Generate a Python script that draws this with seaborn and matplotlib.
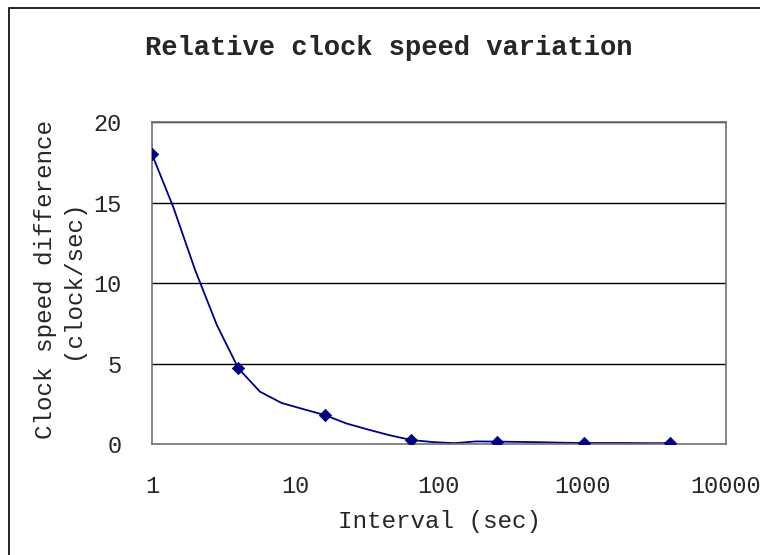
import numpy as np
import pandas as pd
import matplotlib
matplotlib.use("Agg")
import matplotlib.pyplot as plt
import seaborn as sns
from matplotlib.patches import Rectangle

# curve as drawn (read at the visible bends of the line)
line_x = [1, 1.41, 2, 2.83, 4, 5.66, 8, 11.3, 16, 22.6, 32, 45, 64,
          90.5, 128, 181, 256, 362, 512, 724, 1024, 1448, 2048, 2896, 4096]
line_y = [18.0, 14.7, 10.8, 7.4, 4.7, 3.25, 2.55, 2.17, 1.8, 1.28, 0.9, 0.55, 0.25,
          0.12, 0.05, 0.16, 0.15, 0.13, 0.11, 0.08, 0.06, 0.06, 0.06, 0.05, 0.05]

# measured points (markers)
interval = [1, 4, 16, 64, 256, 1024, 4096]
speed_diff = [18.0, 4.7, 1.8, 0.25, 0.15, 0.06, 0.05]

x_ticks = [1, 10, 100, 1000, 10000]
x_tick_labels = ["1", "10", "100", "1000", "10000"]
y_ticks = [0, 5, 10, 15, 20]

line_df = pd.DataFrame({"x": line_x, "y": line_y})
pts_df = pd.DataFrame({"x": interval, "y": speed_diff})

sns.set_style("white")
plt.rcParams["font.family"] = ["Liberation Mono", "DejaVu Sans Mono"]

fig = plt.figure(figsize=(7.6, 5.55), dpi=100)
ax = fig.add_axes([0.2, 0.2, 0.755, 0.58])

navy = "#000080"
sns.lineplot(data=line_df, x="x", y="y", ax=ax, color=navy, linewidth=1.3,
             estimator=None, sort=False)
sns.scatterplot(data=pts_df, x="x", y="y", ax=ax, color=navy, marker="D",
                s=40, edgecolor=navy, linewidth=0.5, zorder=5)

ax.set_xscale("log")
ax.set_xlim(1, 10000)
ax.set_ylim(0, 20)
ax.set_xticks(x_ticks)
ax.set_xticklabels(x_tick_labels)
ax.minorticks_off()
ax.set_yticks(y_ticks)

for v in y_ticks[1:]:
    ax.axhline(v, color="black", linewidth=1.0, zorder=1)

for s in ax.spines.values():
    s.set_visible(True)
    s.set_color("#707070")
    s.set_linewidth(1.2)

ax.tick_params(axis="x", direction="in", length=7, width=1, color="#606060",
               pad=22, labelsize=17)
ax.tick_params(axis="y", direction="out", length=0, pad=22, labelsize=17)
ax.tick_params(axis="x", top=False)
ax.set_xlabel("")
ax.set_ylabel("")

fig.text(389 / 760, 0.9135, "Relative clock speed variation", ha="center", va="center",
         fontsize=19.5, fontweight="bold")
fig.text(0.578, 0.0595, "Interval (sec)", ha="center", va="center", fontsize=17.5)
fig.text(59 / 760, 0.497, "Clock speed difference\n(clock/sec)", ha="center",
         va="center", rotation=90, fontsize=17.5, multialignment="center",
         linespacing=1.2)

# outer chart border
fig.patches.append(Rectangle((9 / 760, -0.05), 1.2, 1 - 8 / 555 + 0.05,
                             transform=fig.transFigure, fill=False,
                             edgecolor="black", linewidth=1.2))

plt.savefig("out.png", dpi=100)
plt.close()
